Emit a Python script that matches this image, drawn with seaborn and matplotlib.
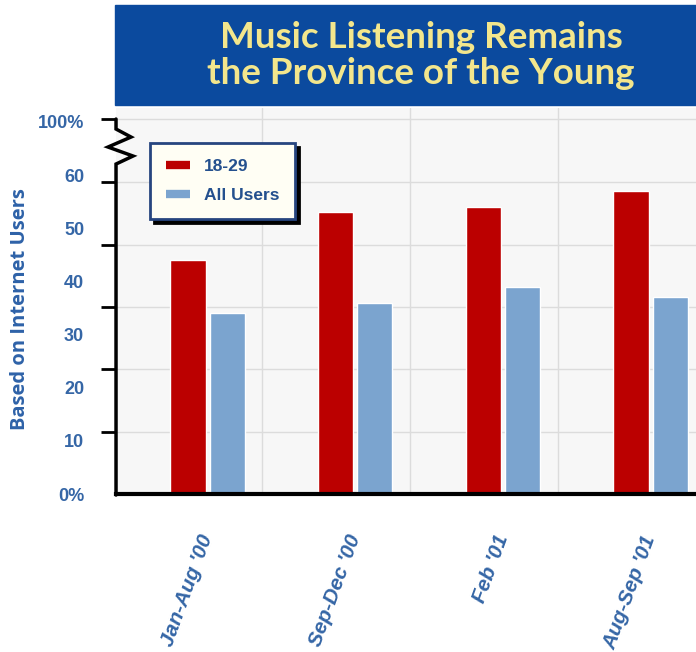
import numpy as np
import pandas as pd
import matplotlib
matplotlib.use("Agg")
import matplotlib.pyplot as plt
import seaborn as sns
from matplotlib.lines import Line2D
from matplotlib.patches import Rectangle

# data
periods = ["Jan-Aug '00", "Sep-Dec '00", "Feb '01", "Aug-Sep '01"]
groups = ["18-29", "All Users"]
young = [44, 53, 54, 57]
all_users = [34, 36, 39, 37]

# y labels (the 100% label sits above the axis break)
ytick_vals = [0, 10, 20, 30, 40, 50, 60, 70]
ytick_labels = ["0%", "10", "20", "30", "40", "50", "60", "100%"]
# the original draws its gridlines / tick marks off the label grid
grid_levels = [11.7, 23.5, 35.2, 46.8, 58.6, 70.5]

df = pd.DataFrame({
    "period": periods * 2,
    "group": [groups[0]] * len(periods) + [groups[1]] * len(periods),
    "pct": young + all_users,
})

red = "#BB0000"
blue = "#7BA4CF"
txt_blue = "#3566A6"

sns.set_style("white")
plt.rcParams["font.family"] = ["Liberation Sans", "DejaVu Sans"]

fig = plt.figure(figsize=(6.96, 6.52), dpi=100)
ax = fig.add_axes([0.1667, 0.2423, 0.8333, 0.592])
ax.set_facecolor("#F7F7F7")
ax.set_axisbelow(True)

sns.barplot(data=df, x="period", y="pct", hue="group", order=periods, hue_order=groups,
            palette=[red, blue], saturation=1, width=0.53, gap=0.1, legend=False, ax=ax)

ax.set_xlim(-0.62, 3.307)
ax.set_ylim(0, 72.6)
ax.set_xlabel("")
ax.set_ylabel("")

# y axis: labels without marks, marks + gridlines on their own levels
ax.set_yticks(ytick_vals)
ax.set_yticklabels(ytick_labels, fontsize=13, fontweight="bold", color=txt_blue)
ax.tick_params(axis="y", which="major", length=0, pad=23)
ax.set_yticks(grid_levels, minor=True)
ax.tick_params(axis="y", which="minor", length=11, width=2, color="black", direction="out", left=True)
ax.yaxis.grid(False, which="major")
ax.yaxis.grid(True, which="minor", color="#DCDCDC", lw=1)

# x axis
ax.set_xticks(range(len(periods)))
ax.set_xticklabels(periods, rotation=70, ha="right", va="center", rotation_mode="anchor",
                   fontsize=15, fontweight="bold", fontstyle="italic", color=txt_blue)
ax.tick_params(axis="x", which="major", length=0, pad=30)
ax.set_xticks([0.37, 1.37, 2.37], minor=True)
ax.tick_params(axis="x", which="minor", length=0)
ax.xaxis.grid(False, which="major")
ax.xaxis.grid(True, which="minor", color="#DCDCDC", lw=1)

for s in ["left", "top", "right"]:
    ax.spines[s].set_visible(False)
ax.spines["bottom"].set_linewidth(3)
ax.spines["bottom"].set_color("black")

# left axis with the zig-zag break (pixel points -> axes fraction)
pts = [(116, 119), (116, 129), (131, 137), (108, 147), (133, 156), (116, 164), (116, 495)]
zx = [(p[0] - 116) / 580 for p in pts]
zy = [(494 - p[1]) / 386 for p in pts]
ax.plot(zx, zy, color="black", lw=2.5, transform=ax.transAxes, clip_on=False,
        solid_joinstyle="miter", zorder=5)

# legend
handles = [Line2D([], [], color=red, lw=6, solid_capstyle="butt"),
           Line2D([], [], color=blue, lw=6, solid_capstyle="butt")]
leg = ax.legend(handles, groups, loc="upper left", bbox_to_anchor=(0.0586, 0.909),
                borderaxespad=0, frameon=True, fancybox=False,
                shadow={"ox": 3, "oy": -3, "color": "black", "alpha": 1},
                edgecolor="#27457F", facecolor="#FFFEF4", framealpha=1,
                prop=dict(weight="bold", size=12.5), labelcolor="#24508E",
                handlelength=1.4, handletextpad=0.8, borderpad=0.9, labelspacing=0.8)
leg.get_frame().set_linewidth(2)

# y axis title
fig.text(20 / 696, 1 - 309 / 652, "Based on Internet Users", rotation=90, ha="center", va="center",
         family=["Open Sans", "DejaVu Sans"], fontweight="bold", fontsize=14.5, color="#2E62A8")

# title banner
fig.add_artist(Rectangle((115 / 696, 1 - 105 / 652), 581 / 696, 100 / 652,
                         transform=fig.transFigure, color="#0B4A9E", zorder=0))
fig.text(421 / 696, 1 - 37 / 652, "Music Listening Remains", ha="center", va="center",
         family=["Lato", "DejaVu Sans"], fontweight="bold", fontsize=26.5, color="#F3E68C")
fig.text(421 / 696, 1 - 74 / 652, "the Province of the Young", ha="center", va="center",
         family=["Lato", "DejaVu Sans"], fontweight="bold", fontsize=26.5, color="#F3E68C")

fig.savefig("out.png", dpi=100)
